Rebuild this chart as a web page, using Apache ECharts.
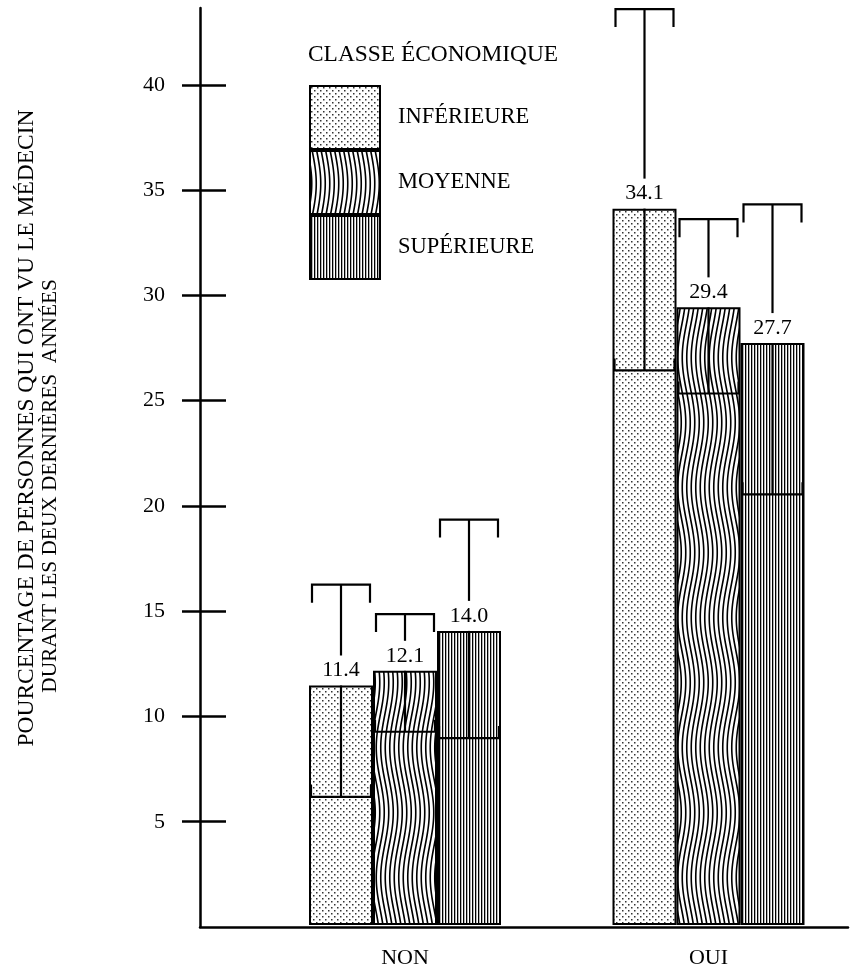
<!DOCTYPE html>
<html>
<head>
<meta charset="utf-8">
<script src="https://cdn.jsdelivr.net/npm/echarts@6/dist/echarts.min.js"></script>
<style>
  html, body { margin: 0; padding: 0; background: #fff; }
  #chart { width: 854px; height: 969px; }
</style>
</head>
<body>
<div id="chart"></div>
<script>
// --- data ---
const categories = ['NON', 'OUI']
const classes = ['INFÉRIEURE', 'MOYENNE', 'SUPÉRIEURE']
const inferieure = [11.4, 34.1]
const moyenne = [12.1, 29.4]
const superieure = [14.0, 27.7]
// confidence limits (low / high) per class
const lowInferieure = [6.1, 26.4]
const highInferieure = [16.2, 43.6]
const lowMoyenne = [9.2, 25.3]
const highMoyenne = [14.8, 33.6]
const lowSuperieure = [8.9, 20.5]
const highSuperieure = [19.3, 34.3]
const yTicks = [5, 10, 15, 20, 25, 30, 35, 40]

const FONT = '"Liberation Serif", "DejaVu Serif", serif'
const BAR_W = 64
const Y_MAX = 43.65

// fill patterns
function makeCanvas(w, h) {
    let c = document.createElement('canvas')
    c.width = w
    c.height = h
    let g = c.getContext('2d')
    g.fillStyle = '#fff'
    g.fillRect(0, 0, w, h)
    return [c, g]
}
function dots() {
    let [c, g] = makeCanvas(6, 6)
    g.fillStyle = '#333'
    g.fillRect(1, 1, 1.5, 1.5)
    g.fillRect(4, 4, 1.5, 1.5)
    return c
}
function waves() {
    let [c, g] = makeCanvas(9, 130)
    g.strokeStyle = '#000'
    g.lineWidth = 1.6
    for (let off of [-9, -4.5, 0, 4.5, 9]) {
        g.beginPath()
        for (let y = -1; y <= 131; y++) {
            let x = 2.25 + off + 4 * Math.sin(2 * Math.PI * y / 130)
            if (y === -1) g.moveTo(x, y)
            else g.lineTo(x, y)
        }
        g.stroke()
    }
    return c
}
function stripes() {
    let [c, g] = makeCanvas(3, 4)
    g.fillStyle = '#000'
    g.fillRect(1, 0, 1.3, 4)
    return c
}
const patterns = [
    {image: dots(), repeat: 'repeat'},
    {image: waves(), repeat: 'repeat'},
    {image: stripes(), repeat: 'repeat'}
]

const means = [inferieure, moyenne, superieure]
const lows = [lowInferieure, lowMoyenne, lowSuperieure]
const highs = [highInferieure, highMoyenne, highSuperieure]

let errData = []
for (let k = 0; k < classes.length; k++) {
    for (let i = 0; i < categories.length; i++) {
        errData.push([i, k, means[k][i], lows[k][i], highs[k][i]])
    }
}

function renderError(params, api) {
    let cat = api.value(0)
    let k = api.value(1)
    let mean = api.value(2)
    let lo = api.value(3)
    let hi = api.value(4)
    let x = api.coord([cat, 0])[0] + (k - 1) * BAR_W
    let yHi = api.coord([cat, hi])[1]
    let yLo = api.coord([cat, lo])[1]
    let yMean = api.coord([cat, mean])[1]
    let ls = {stroke: '#000', lineWidth: 2.2, fill: null}
    let seg = (x1, y1, x2, y2) => ({type: 'line', shape: {x1: x1, y1: y1, x2: x2, y2: y2}, style: ls})
    return {
        type: 'group',
        children: [
            seg(x, yHi, x, yMean - 30),
            seg(x, yMean, x, yLo),
            {type: 'polyline', shape: {points: [[x - 29, yHi + 18], [x - 29, yHi], [x + 29, yHi], [x + 29, yHi + 18]]}, style: ls},
            {type: 'polyline', shape: {points: [[x - 30, yLo - 12], [x - 30, yLo], [x + 30, yLo], [x + 30, yLo - 12]]}, style: ls},
            {
                type: 'text',
                z2: 10,
                style: {
                    text: mean.toFixed(1),
                    x: x,
                    y: yMean - 4,
                    align: 'center',
                    verticalAlign: 'bottom',
                    font: '22px ' + FONT,
                    fill: '#000'
                }
            }
        ]
    }
}

let chart = echarts.init(document.getElementById('chart'))

let barSeries = classes.map((name, k) => ({
    name: name,
    type: 'bar',
    xAxisIndex: 1,
    yAxisIndex: 2,
    barWidth: BAR_W,
    barGap: '0%',
    data: means[k],
    itemStyle: {color: patterns[k], borderColor: '#000', borderWidth: 2},
    emphasis: {disabled: true}
}))

chart.setOption({
    animation: false,
    backgroundColor: '#fff',
    title: {
        text: 'CLASSE ÉCONOMIQUE',
        left: 308,
        top: 43,
        padding: 0,
        textStyle: {fontFamily: FONT, fontSize: 23.4, fontWeight: 'normal', color: '#000'}
    },
    legend: {
        data: classes,
        orient: 'vertical',
        left: 309,
        top: 85,
        padding: 0,
        itemWidth: 70,
        itemHeight: 63,
        itemGap: 0,
        icon: 'rect',
        selectedMode: false,
        itemStyle: {borderColor: '#000', borderWidth: 2},
        textStyle: {fontFamily: FONT, fontSize: 22.5, color: '#000', padding: [0, 0, 0, 13]}
    },
    graphic: [
        {
            type: 'text',
            x: 27,
            y: 428,
            rotation: Math.PI / 2,
            style: {
                text: 'POURCENTAGE DE PERSONNES QUI ONT VU LE MÉDECIN',
                font: '23.5px ' + FONT,
                fill: '#000',
                align: 'center',
                verticalAlign: 'middle'
            }
        },
        {
            type: 'text',
            x: 50,
            y: 486,
            rotation: Math.PI / 2,
            style: {
                text: 'DURANT LES DEUX DERNIÈRES  ANNÉES',
                font: '21.3px ' + FONT,
                fill: '#000',
                align: 'center',
                verticalAlign: 'middle'
            }
        }
    ],
    grid: [
        {left: 200, right: 6, top: 8, bottom: 42},
        {left: 405, width: 303.5, top: 8, bottom: 42}
    ],
    xAxis: [
        {
            type: 'value',
            gridIndex: 0,
            min: 0,
            max: 1,
            axisLine: {show: true, onZero: false, lineStyle: {color: '#000', width: 2.5}},
            axisTick: {show: false},
            axisLabel: {show: false},
            splitLine: {show: false}
        },
        {
            type: 'category',
            gridIndex: 1,
            data: categories,
            boundaryGap: false,
            axisLine: {show: false},
            axisTick: {show: false},
            axisLabel: {fontFamily: FONT, fontSize: 22, color: '#000', margin: 22},
            splitLine: {show: false}
        }
    ],
    yAxis: [
        {
            type: 'value',
            gridIndex: 0,
            position: 'left',
            min: 0,
            max: Y_MAX,
            axisLine: {show: true, lineStyle: {color: '#000', width: 2.5}},
            axisTick: {show: true, length: 18, customValues: yTicks, lineStyle: {color: '#000', width: 2.5}},
            axisLabel: {customValues: yTicks, fontFamily: FONT, fontSize: 22, color: '#000', margin: 35},
            splitLine: {show: false}
        },
        {
            type: 'value',
            gridIndex: 0,
            position: 'left',
            min: 0,
            max: Y_MAX,
            axisLine: {show: false},
            axisTick: {show: true, inside: true, length: 26, customValues: yTicks, lineStyle: {color: '#000', width: 2.5}},
            axisLabel: {show: false},
            splitLine: {show: false}
        },
        {
            type: 'value',
            gridIndex: 1,
            min: 0,
            max: Y_MAX,
            show: false,
            splitLine: {show: false}
        }
    ],
    series: barSeries.concat([{
        type: 'custom',
        xAxisIndex: 1,
        yAxisIndex: 2,
        z: 5,
        renderItem: renderError,
        data: errData
    }])
})
</script>
</body>
</html>
